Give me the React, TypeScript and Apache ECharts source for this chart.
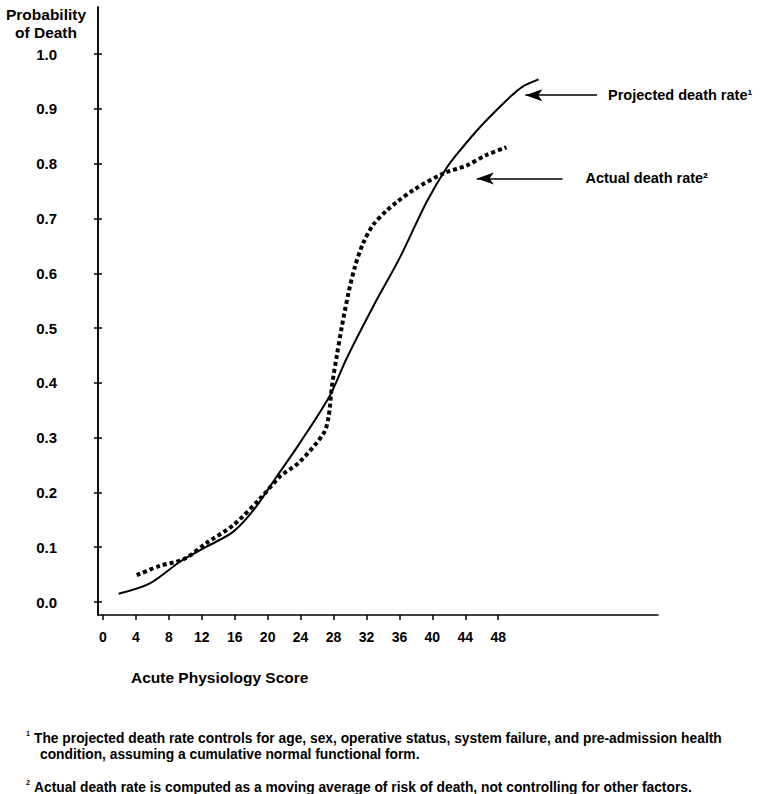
import React, { useEffect, useRef } from "react";
import * as echarts from "echarts";

const xTicks = [0, 4, 8, 12, 16, 20, 24, 28, 32, 36, 40, 44, 48];
const yTicks = [0, 0.1, 0.2, 0.3, 0.4, 0.5, 0.6, 0.7, 0.8, 0.9, 1.0];

// Projected death rate (solid line): [Acute Physiology Score, probability]
const projected: [number, number][] = [
  [1.9, 0.015], [5.7, 0.034], [9.4, 0.074], [12.6, 0.101], [15.8, 0.128],
  [18.3, 0.168], [21.1, 0.229], [23.9, 0.29], [27.6, 0.378], [29.6, 0.445],
  [32.8, 0.539], [36.1, 0.63], [39.3, 0.73], [41.8, 0.794], [43.4, 0.825],
  [45.8, 0.867], [48.2, 0.904], [49.9, 0.928], [51.1, 0.942], [52.9, 0.954],
];

// Actual death rate (dotted line)
const actual: [number, number][] = [
  [4.1, 0.049], [6.9, 0.066], [9.8, 0.078], [12.6, 0.108], [15.8, 0.14],
  [19.1, 0.189], [21.5, 0.229], [23.9, 0.256], [26.8, 0.308], [27.4, 0.338],
  [27.8, 0.393], [28.4, 0.45], [29.0, 0.502], [29.8, 0.563], [30.6, 0.612],
  [31.6, 0.655], [32.8, 0.688], [34.5, 0.715], [35.7, 0.73], [37.7, 0.752],
  [41.3, 0.782], [44.2, 0.797], [46.6, 0.816], [49.0, 0.83],
];

const arrowLabels = ["Projected death rate\u00b9", "Actual death rate\u00b2"];
const arrowTips: [number, number][] = [[51.3, 0.925], [45.4, 0.773]];
const arrowTails = [60.0, 55.8];

const yTitle = "Probability\nof Death";
const xTitle = "Acute Physiology Score";
const footnote1a = "The projected death rate controls for age, sex, operative status, system failure, and pre-admission health";
const footnote1b = "condition, assuming a cumulative normal functional form.";
const footnote2 = "Actual death rate is computed as a moving average of risk of death, not controlling for other factors.";

const F = "'Liberation Sans', Arial, Helvetica, sans-serif";

export default function App() {
  const ref = useRef<HTMLDivElement>(null);
  useEffect(() => {
    const chart = echarts.init(ref.current!, null, { renderer: "svg" });
    const gridPos = { left: 98, right: 111, top: 7, bottom: 179, containLabel: false };
    const X_MIN = -0.6;
    const X_MAX = 67.4;
    const Y_MIN = -0.0237;
    const Y_MAX = 1.086;
    const tickStyle = { color: "#000", width: 1.5 };
    chart.setOption({
      animation: false,
      backgroundColor: "#fff",
      grid: [gridPos, gridPos],
      xAxis: [
        {
          type: "value",
          gridIndex: 0,
          min: X_MIN,
          max: X_MAX,
          splitLine: { show: false },
          axisLine: { show: true, onZero: false, lineStyle: { color: "#000", width: 1.5 } },
          axisTick: { show: true, customValues: xTicks, length: 5, lineStyle: tickStyle },
          axisLabel: {
            customValues: xTicks,
            margin: 15,
            color: "#000",
            fontSize: 14,
            fontWeight: "bold",
            fontFamily: F,
          },
        },
        { type: "value", gridIndex: 1, min: X_MIN, max: X_MAX, show: false },
      ],
      yAxis: [
        {
          type: "value",
          gridIndex: 0,
          min: Y_MIN,
          max: Y_MAX,
          splitLine: { show: false },
          axisLine: { show: true, onZero: false, lineStyle: { color: "#000", width: 1.5 } },
          axisTick: { show: true, customValues: yTicks, length: 4, lineStyle: tickStyle },
          axisLabel: {
            customValues: yTicks,
            formatter: (v: number) => v.toFixed(1),
            margin: 41,
            color: "#000",
            fontSize: 15,
            fontWeight: "bold",
            fontFamily: F,
          },
        },
        {
          type: "value",
          gridIndex: 1,
          position: "left",
          min: Y_MIN,
          max: Y_MAX,
          splitLine: { show: false },
          axisLine: { show: true, onZero: false, lineStyle: { color: "#000", width: 1.5 } },
          axisTick: { show: true, inside: true, customValues: yTicks, length: 4, lineStyle: tickStyle },
          axisLabel: { show: false },
        },
      ],
      series: [
        {
          type: "line",
          name: "Projected",
          xAxisIndex: 0,
          yAxisIndex: 0,
          data: projected,
          symbol: "none",
          smooth: 0.3,
          lineStyle: { color: "#000", width: 2 },
          markLine: {
            silent: true,
            symbol: ["none", "arrow"],
            symbolSize: [9, 17],
            lineStyle: { color: "#000", width: 1.5, type: "solid" },
            label: {
              show: true,
              position: "start",
              formatter: "{b}",
              color: "#000",
              fontSize: 14.5,
              fontWeight: "bold",
              fontFamily: F,
              distance: 11,
            },
            data: arrowLabels.map((name, i) => [
              {
                name,
                coord: [arrowTails[i], arrowTips[i][1]],
                label: { distance: i === 0 ? 11 : 23 },
              },
              { coord: arrowTips[i] },
            ]),
          },
        },
        {
          type: "line",
          name: "Actual",
          xAxisIndex: 0,
          yAxisIndex: 0,
          data: actual,
          symbol: "none",
          smooth: 0.3,
          lineStyle: { color: "#000", width: 4, type: [4, 3], cap: "butt" },
        },
      ],
      graphic: [
        {
          type: "text",
          x: 46,
          y: 5,
          style: {
            text: yTitle,
            align: "center",
            verticalAlign: "top",
            font: `bold 15.5px ${F}`,
            lineHeight: 18,
            fill: "#000",
          },
        },
        {
          type: "text",
          x: 131,
          y: 677,
          style: { text: xTitle, verticalAlign: "middle", font: `bold 15.5px ${F}`, fill: "#000" },
        },
        { type: "text", x: 26, y: 733, style: { text: "1", verticalAlign: "middle", font: `bold 7px ${F}`, fill: "#000" } },
        { type: "text", x: 34, y: 738, style: { text: footnote1a, verticalAlign: "middle", font: `bold 13.8px ${F}`, fill: "#000" } },
        { type: "text", x: 40, y: 754, style: { text: footnote1b, verticalAlign: "middle", font: `bold 13.8px ${F}`, fill: "#000" } },
        { type: "text", x: 26, y: 782, style: { text: "2", verticalAlign: "middle", font: `bold 7px ${F}`, fill: "#000" } },
        { type: "text", x: 34, y: 787, style: { text: footnote2, verticalAlign: "middle", font: `bold 13.8px ${F}`, fill: "#000" } },
      ],
    });
    return () => chart.dispose();
  }, []);
  return (
    <div
      ref={ref}
      style={{ position: "absolute", left: 0, top: 0, width: 769, height: 794, background: "#fff" }}
    />
  );
}
